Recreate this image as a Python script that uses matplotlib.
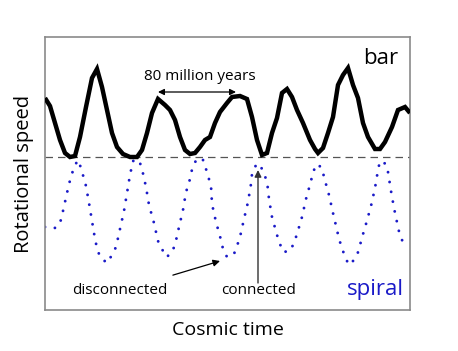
"""Bar vs spiral rotational speed over cosmic time."""

import matplotlib
matplotlib.use("Agg")
import matplotlib.pyplot as plt

plt.rcParams["font.family"] = ["Open Sans", "DejaVu Sans"]

BLUE = "#1a1ac8"
GRAY = "#8a8a8a"

# ── data (time / speed, screen-like units) ───────────────────────────────────
bar_t = [45, 50, 55, 60, 65, 70, 75, 80, 86, 92, 97, 102, 107, 112, 117, 123,
         130, 137, 142, 147, 152, 158, 165, 170, 175, 180, 185, 190, 195, 200,
         205, 210, 215, 220, 227, 232, 240, 247, 252, 257, 262, 267, 272, 277,
         282, 287, 292, 297, 303, 310, 315, 318, 323, 328, 333, 338, 343, 348,
         353, 358, 363, 368, 375, 380, 385, 392, 398, 405, 410]
bar_v = [98, 106, 123, 140, 153, 157, 156, 137, 107, 78, 69, 87, 110, 133, 147,
         154, 157, 157, 150, 133, 113, 99, 105, 110, 120, 137, 150, 154, 153,
         147, 140, 137, 123, 112, 103, 97, 96, 99, 117, 140, 155, 153, 133, 118,
         93, 89, 97, 110, 123, 140, 149, 153, 148, 133, 117, 85, 75, 68, 85, 98,
         123, 137, 149, 149, 142, 127, 110, 107, 113]

spiral_t = [45, 56, 61, 65, 69, 74, 78, 81, 86, 89, 92, 95, 97, 100, 107, 112,
            116, 120, 124, 127, 130, 133, 139, 142, 146, 149, 154, 158, 162,
            166, 171, 175, 179, 183, 186, 189, 193, 198, 203, 206, 211, 212,
            216, 221, 223, 227, 234, 237, 240, 244, 248, 251, 252, 256, 260,
            263, 267, 269, 272, 277, 280, 283, 290, 294, 297, 302, 306, 311,
            313, 317, 322, 324, 329, 333, 337, 339, 342, 345, 349, 355, 359,
            361, 366, 371, 375, 378, 380, 386, 388, 391, 394, 398, 400, 404]
spiral_v = [227, 228, 220, 202, 184, 167, 160, 168, 186, 203, 221, 239, 248,
            257, 263, 255, 247, 229, 211, 193, 175, 161, 160, 169, 187, 205,
            223, 241, 249, 257, 254, 245, 227, 210, 192, 183, 165, 158, 160,
            169, 186, 204, 222, 240, 249, 257, 254, 246, 237, 219, 202, 184,
            174, 165, 164, 172, 181, 199, 217, 235, 244, 252, 251, 243, 234,
            217, 199, 181, 172, 164, 168, 177, 195, 213, 230, 239, 248, 257,
            265, 259, 250, 241, 224, 206, 188, 170, 161, 164, 172, 191, 208,
            227, 236, 244]

link_level = 157

fig = plt.figure(figsize=(4.58, 3.51), dpi=100)
fig.patch.set_facecolor("white")
ax = fig.add_axes([45 / 458, 41 / 351, 365 / 458, 273 / 351])
ax.set_xlim(45, 410)
ax.set_ylim(310, 37)
ax.set_xticks([])
ax.set_yticks([])
for s in ax.spines.values():
    s.set_color(GRAY)
    s.set_linewidth(1.2)

ax.axhline(link_level, color="#555555", lw=0.9, ls=(0, (6, 4)), zorder=1)
ax.plot(bar_t, bar_v, color="black", lw=3.2, solid_joinstyle="miter",
        solid_capstyle="butt", zorder=3)
ax.plot(spiral_t, spiral_v, color=BLUE, lw=2.1, ls=(0, (0.01, 3.4)),
        dash_capstyle="round", zorder=2)

# ── labels ───────────────────────────────────────────────────────────────────
ax.text(381, 58, "bar", fontsize=16, ha="center", va="center")
ax.text(375, 290, "spiral", fontsize=16, ha="center", va="center", color=BLUE)
ax.text(200, 76, "80 million years", fontsize=11, ha="center", va="center")
ax.annotate("", xy=(158, 92), xytext=(236, 92),
            arrowprops=dict(arrowstyle="<|-|>", color="black", lw=0.9,
                            mutation_scale=9, shrinkA=0, shrinkB=0))
ax.annotate("disconnected", xy=(220, 261), xytext=(120, 291),
            fontsize=11, ha="center", va="center",
            arrowprops=dict(arrowstyle="-|>", color="black", lw=0.9,
                            mutation_scale=10, shrinkA=14, shrinkB=0))
ax.text(259, 291, "connected", fontsize=11, ha="center", va="center")
ax.annotate("", xy=(258, 170), xytext=(258, 283),
            arrowprops=dict(arrowstyle="-|>", color="#333333", lw=1.0,
                            mutation_scale=10, shrinkA=0, shrinkB=0))

ax.set_xlabel("Cosmic time", fontsize=14, labelpad=8)
ax.set_ylabel("Rotational speed", fontsize=14.5, labelpad=8)

fig.savefig("out.png", dpi=100, facecolor="white")
